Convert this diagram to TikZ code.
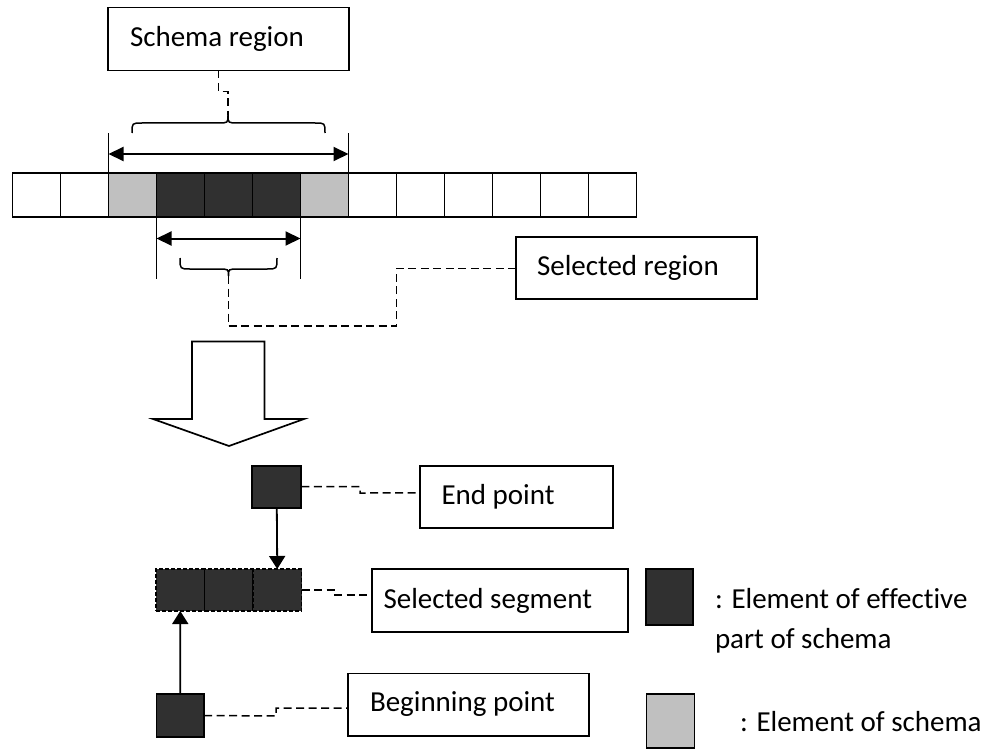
\documentclass[tikz,border=0pt]{standalone}
\usepackage{fontspec}
\setmainfont{Carlito}[Ligatures=NoCommon]
\usetikzlibrary{arrows.meta,calc}
\definecolor{darkcell}{HTML}{303030}
\definecolor{lightcell}{HTML}{C0C0C0}
\begin{document}
\begin{tikzpicture}[x=1pt,y=-1pt,
  every node/.style={inner sep=0pt,outer sep=0pt},
  cell/.style={draw,line width=1.8pt,minimum width=48pt,minimum height=44pt,anchor=north west},
  labelbox/.style={draw,line width=1.7pt,anchor=north west},
  labeltext/.style={anchor=west,font=\fontsize{29}{40}\selectfont},
  sq/.style={draw,line width=1.7pt,fill=darkcell,anchor=north west},
  leader/.style={dashed,dash pattern=on 8pt off 4.5pt,line width=1.5pt},
  tick/.style={line width=1.4pt},
  span/.style={line width=2pt,{Triangle[length=15pt,width=14pt]}-{Triangle[length=15pt,width=14pt]}},
  link/.style={line width=1.8pt,-{Triangle[length=13pt,width=16pt]}},
  brace/.style={line width=1.5pt}
]
\useasboundingbox (0,0) rectangle (998,749);

% the row of elements
\foreach \i/\col in {0/white,1/white,2/lightcell,3/darkcell,4/darkcell,5/darkcell,6/lightcell,
                     7/white,8/white,9/white,10/white,11/white,12/white}
  \node[cell,fill=\col] (c\i) at ({12.5+48*\i},173) {};

% schema region span
\node[labelbox,minimum width=241pt,minimum height=63pt] (schbox) at (108,7.5) {};
\node[labeltext] at (130,39) {Schema region};
\coordinate (ubt) at (228,115);
\draw[tick] (c2.north west) -- ++(0,-40);
\draw[tick] (c6.north east) -- ++(0,-40);
\draw[span] ($(c2.north west)+(0,-19)$) -- ($(c6.north east)+(0,-19)$);
\draw[brace] (132,133) .. controls (132,123) .. (142,123) -- (218,123)
  .. controls (228,123) .. (ubt) .. controls (228,123) .. (238,123) -- (315,123)
  .. controls (325,123) .. (325,133);
\draw[leader] ([xshift=-10pt]schbox.south) -- ++(0,21) -| (ubt);

% selected region span
\node[labelbox,minimum width=241pt,minimum height=62pt] (srbox) at (516,237.3) {};
\node[labeltext] at (537,268) {Selected region};
\coordinate (lbt) at (228.5,276);
\draw[tick] (c3.south west) -- ++(0,62);
\draw[tick] (c5.south east) -- ++(0,62);
\draw[span] ($(c3.south west)+(0,21.5)$) -- ($(c5.south east)+(0,21.5)$);
\draw[brace] (180,258) .. controls (180,269) .. (190,269) -- (218.5,269)
  .. controls (228.5,269) .. (lbt) .. controls (228.5,269) .. (238.5,269) -- (267,269)
  .. controls (277,269) .. (277,258);
\draw[leader] (lbt) -- ++(0,50) -| (396.7,268.3) -- (srbox.west);

% block arrow
\draw[line width=1.7pt,fill=white] (192,341.5) -- (264.5,341.5) -- (264.5,419) -- (304,419)
  -- (229,446) -- (153,419) -- (192,419) -- cycle;

% end point
\node[sq,minimum width=49pt,minimum height=42pt] (ep) at (252.3,465.7) {};
\node[labelbox,minimum width=193pt,minimum height=62.5pt] (epbox) at (420,465.7) {};
\node[labeltext] at (441.5,497) {End point};
\draw[leader] (ep.east) -- (360,486.7) -- (360,493) -- ([yshift=4pt]epbox.west);

% selected segment
\foreach \i in {0,1,2}
  \node[sq,dash pattern=on 4pt off 2pt,line width=1.3pt,minimum width=48.5pt,minimum height=42pt]
    (s\i) at ({156+48.5*\i},569) {};
\node[labelbox,minimum width=256pt,minimum height=63pt] (ssbox) at (372,569) {};
\node[labeltext] at (383.5,600.5) {Selected segment};
\draw[leader] (s2.east) -- (335,590) -- (335,595) -- ([yshift=5.5pt]ssbox.west);
\draw[link] (ep.south) -- (s2.north);

% beginning point
\node[sq,minimum width=47.6pt,minimum height=42.4pt] (bp) at (156.5,694.3) {};
\node[labelbox,minimum width=241pt,minimum height=62.5pt] (bpbox) at (348,673.5) {};
\node[labeltext] at (370,704.5) {Beginning point};
\draw[leader] (bp.east) -- (276,716) -- (276,708) -- ([yshift=-3.3pt]bpbox.west);
\draw[link] (bp.north) -- (s0.south);

% legend
\node[sq,minimum width=47pt,minimum height=56pt] (lg1) at (646,569) {};
\node[labeltext,align=left] (lg1t) at (715,621)
  {: Element of effective\\part of schema};
\node[draw,line width=1.7pt,fill=lightcell,anchor=north west,minimum width=48pt,minimum height=54pt]
  (lg2) at (646.5,694.3) {};
\node[labeltext] (lg2t) at (740,722) {: Element of schema};
\end{tikzpicture}
\end{document}
